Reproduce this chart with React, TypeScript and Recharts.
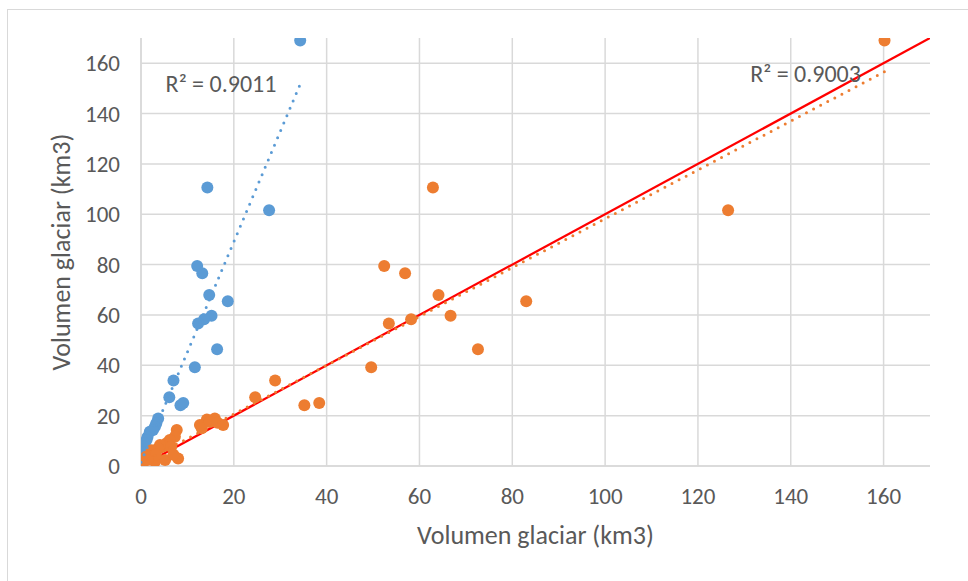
import React from 'react';
import { ScatterChart, Scatter, XAxis, YAxis, CartesianGrid, ReferenceDot, Label } from 'recharts';

// Blue series (small x, same volumes)
const blueX = [34.3, 27.6, 14.3, 12.1, 13.2, 14.7, 18.7, 15.2, 13.6, 12.3, 16.4, 11.6, 7.0, 6.1, 8.5, 9.1, 3.7, 3.3, 3.0, 2.6, 1.9, 1.4, 1.2, 0.8, 0.5, 0.3, 0.0, 0.2, 0.0, 0.1];
const blueY = [169, 101.6, 110.6, 79.4, 76.6, 67.9, 65.4, 59.7, 58.3, 56.6, 46.4, 39.2, 34, 27.3, 24.1, 25, 18.9, 17, 15.6, 14.3, 13.6, 11.5, 10.3, 9, 7.7, 5.5, 3.7, 2.5, 1, 0.3];

// Orange series
const orangeX = [160.2, 126.5, 62.9, 52.4, 56.9, 64.1, 83.0, 66.7, 58.2, 53.4, 72.6, 49.6, 28.9, 24.6, 35.2, 38.4, 14.2, 15.9, 17.7, 12.7, 13.1, 14.8, 16.5, 7.7, 7.3, 6.2, 5.5, 4.8, 4.1, 3.7, 2.3, 8.0, 5.2, 3.0, 1.9, 0.5, 0.0, 1.1, 6.5, 3.2, 7.0, 1.4];
const orangeY = [169, 101.6, 110.6, 79.4, 76.6, 67.9, 65.4, 59.7, 58.3, 56.6, 46.4, 39.2, 34, 27.3, 24.1, 25, 18.5, 18.9, 16.3, 16.3, 15, 17.5, 17.2, 14.3, 11.6, 10.3, 9, 7.7, 8.3, 7, 6.3, 3, 2.4, 1.7, 3.7, 1.7, 0, 3.7, 7.6, 4.6, 4.5, 2.4];

// Linear trend lines (endpoints) and 1:1 line
const blueTrendX = [0, 34.4];
const blueTrendY = [1.5, 152.1];
const orangeTrendX = [0, 160.2];
const orangeTrendY = [1.2, 156.6];
const identityX = [0, 170];
const identityY = [0, 170];

const xTicks = [0, 20, 40, 60, 80, 100, 120, 140, 160];
const yTicks = [0, 20, 40, 60, 80, 100, 120, 140, 160];

const r2Blue = { x: 5.3, y: 151.9, text: 'R² = 0.9011' };
const r2Orange = { x: 131.25, y: 155.9, text: 'R² = 0.9003' };

const zip = (xs: number[], ys: number[]) => xs.map((x, i) => ({ x, y: ys[i] }));

const blueData = zip(blueX, blueY);
const orangeData = zip(orangeX, orangeY);
const blueTrend = zip(blueTrendX, blueTrendY);
const orangeTrend = zip(orangeTrendX, orangeTrendY);
const identity = zip(identityX, identityY);

const BLUE = '#5B9BD5';
const ORANGE = '#ED7D31';
const TEXT = '#595959';
const GRID = '#D9D9D9';
const FONT = 'Carlito, Calibri, Lato, sans-serif';

const dot = (color: string) => (p: any) => <circle cx={p.cx} cy={p.cy} r={6} fill={color} />;
const none = () => <g />;

export default function App() {
  return (
    <div style={{ position: 'absolute', left: 0, top: 0, width: 968, height: 581, fontFamily: FONT, background: '#fff', overflow: 'hidden' }}>
      <div style={{ position: 'absolute', left: 7, top: 9, width: 980, height: 600, border: `1px solid ${GRID}`, boxSizing: 'border-box' }} />
      <div style={{ position: 'absolute', left: 0, top: 0 }}>
        <ScatterChart width={968} height={581} margin={{ top: 38, right: 38, bottom: 35, left: 0 }}>
          <CartesianGrid stroke={GRID} strokeWidth={1.5} syncWithTicks />
          <XAxis
            type="number"
            dataKey="x"
            domain={[0, 170]}
            ticks={xTicks}
            allowDataOverflow
            tickSize={0}
            tickLine={false}
            tickMargin={22}
            axisLine={{ stroke: GRID, strokeWidth: 1.5 }}
            tick={{ fill: TEXT, fontSize: 23 }}
            height={80}
          >
            <Label value="Volumen glaciar (km3)" position="insideBottom" offset={2} fill={TEXT} fontSize={26} />
          </XAxis>
          <YAxis
            type="number"
            dataKey="y"
            domain={[0, 170]}
            ticks={yTicks}
            allowDataOverflow
            tickSize={0}
            tickLine={false}
            tickMargin={21}
            axisLine={{ stroke: GRID, strokeWidth: 1.5 }}
            tick={{ fill: TEXT, fontSize: 23 }}
            width={141}
          >
            <Label value="Volumen glaciar (km3)" angle={-90} position="insideLeft" offset={61} fill={TEXT} fontSize={26} style={{ textAnchor: 'middle' }} />
          </YAxis>
          <Scatter data={identity} isAnimationActive={false} shape={none} line={{ stroke: '#FF0000', strokeWidth: 2.25 }} />
          <Scatter data={blueData} isAnimationActive={false} shape={dot(BLUE)} />
          <Scatter data={orangeData} isAnimationActive={false} shape={dot(ORANGE)} />
          <Scatter data={orangeTrend} isAnimationActive={false} shape={none} line={{ stroke: ORANGE, strokeWidth: 3, strokeDasharray: '0 8', strokeLinecap: 'round' }} />
          <Scatter data={blueTrend} isAnimationActive={false} shape={none} line={{ stroke: BLUE, strokeWidth: 3, strokeDasharray: '0 8', strokeLinecap: 'round' }} />
          <ReferenceDot x={r2Blue.x} y={r2Blue.y} r={0} fill="none" stroke="none" label={{ value: r2Blue.text, position: 'right', offset: 0, fill: TEXT, fontSize: 24 }} />
          <ReferenceDot x={r2Orange.x} y={r2Orange.y} r={0} fill="none" stroke="none" label={{ value: r2Orange.text, position: 'right', offset: 0, fill: TEXT, fontSize: 24 }} />
        </ScatterChart>
      </div>
    </div>
  );
}
